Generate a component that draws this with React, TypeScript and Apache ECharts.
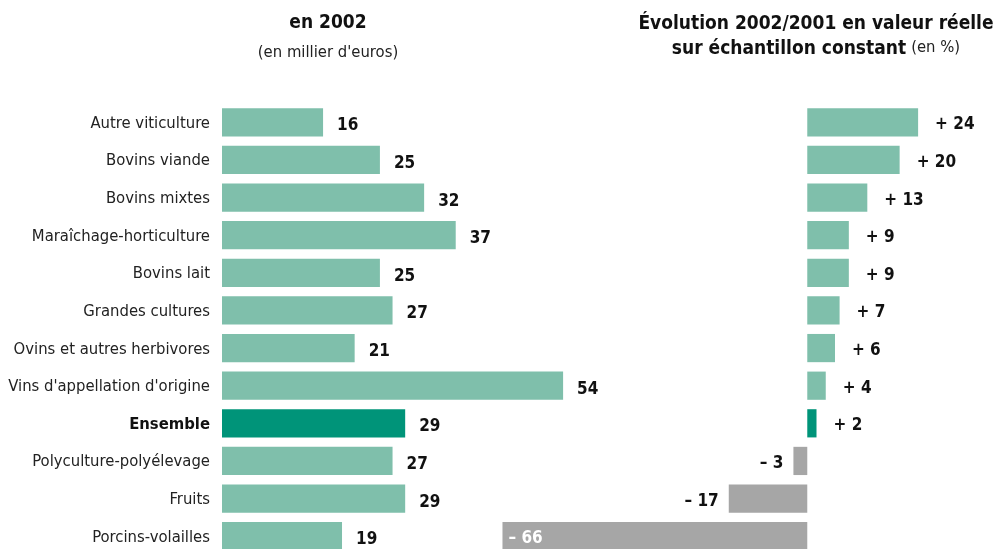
import React, { useEffect, useRef } from "react";
import * as echarts from "echarts";

const categories = [
  "Autre viticulture",
  "Bovins viande",
  "Bovins mixtes",
  "Maraîchage-horticulture",
  "Bovins lait",
  "Grandes cultures",
  "Ovins et autres herbivores",
  "Vins d'appellation d'origine",
  "Ensemble",
  "Polyculture-polyélevage",
  "Fruits",
  "Porcins-volailles",
];
const values2002 = [16, 25, 32, 37, 25, 27, 21, 54, 29, 27, 29, 19];
const evolution = [24, 20, 13, 9, 9, 7, 6, 4, 2, -3, -17, -66];

const FONT = "'DejaVu Sans Condensed', 'Liberation Sans Narrow', Arial, sans-serif";
const LIGHT = "#7fbfab";
const DARK = "#009479";
const GREY = "#a6a6a6";

export default function App() {
  const ref = useRef<HTMLDivElement>(null);
  useEffect(() => {
    document.body.style.margin = "0";
    const chart = echarts.init(ref.current!, undefined, { renderer: "svg" });
    const fmtEvo = (v: number) => (v >= 0 ? "+ " + v : "– " + Math.abs(v));
    const leftData = values2002.map((v, i) => ({
      value: v,
      itemStyle: { color: categories[i] === "Ensemble" ? DARK : LIGHT },
    }));
    const rightData = evolution.map((v, i) => {
      const isEns = categories[i] === "Ensemble";
      const color = v < 0 ? GREY : isEns ? DARK : LIGHT;
      let label: any;
      if (v >= 0) {
        label = { position: "right", distance: 17 };
      } else if (v > -40) {
        label = { position: "left", distance: 10 };
      } else {
        label = { position: "insideLeft", distance: 6, color: "#fff" };
      }
      return { value: v, itemStyle: { color }, label };
    });
    const gridTop = 103.5;
    const gridHeight = 451.5;
    chart.setOption({
      animation: false,
      title: [
        {
          text: "en 2002",
          left: 323,
          textAlign: "center",
          top: 6,
          textStyle: { fontFamily: FONT, fontSize: 19, fontWeight: "bold", color: "#111" },
        },
        {
          text: "(en millier d'euros)",
          left: 323,
          textAlign: "center",
          top: 38,
          textStyle: { fontFamily: FONT, fontSize: 16.5, fontWeight: "normal", color: "#222" },
        },
        {
          text: "{b|Évolution 2002/2001 en valeur réelle}\n{b|sur échantillon constant} {n|(en %)}",
          left: 811,
          textAlign: "center",
          top: 4,
          textStyle: {
            fontFamily: FONT,
            fontWeight: "normal",
            align: "center",
            rich: {
              b: { fontFamily: FONT, fontSize: 19, fontWeight: "bold", color: "#111", lineHeight: 25, align: "center" },
              n: { fontFamily: FONT, fontSize: 16.5, fontWeight: "normal", color: "#222", lineHeight: 25, align: "center" },
            },
          },
        },
      ],
      grid: [
        { left: 222, width: 379, top: gridTop, height: gridHeight },
        { left: 484, width: 508, top: gridTop, height: gridHeight },
      ],
      xAxis: [
        { gridIndex: 0, type: "value", min: 0, max: 60, show: false },
        { gridIndex: 1, type: "value", min: -70, max: 40, show: false },
      ],
      yAxis: [
        {
          gridIndex: 0,
          type: "category",
          data: categories,
          inverse: true,
          axisLine: { show: false },
          axisTick: { show: false },
          splitLine: { show: false },
          axisLabel: {
            margin: 12,
            fontFamily: FONT,
            fontSize: 16.5,
            color: "#222",
            formatter: (v: string) => (v === "Ensemble" ? "{b|" + v + "}" : v),
            rich: {
              b: { fontFamily: FONT, fontSize: 16.5, fontWeight: "bold", color: "#111" },
            },
          },
        },
        {
          gridIndex: 1,
          type: "category",
          data: categories,
          inverse: true,
          show: false,
        },
      ],
      series: [
        {
          type: "bar",
          xAxisIndex: 0,
          yAxisIndex: 0,
          data: leftData,
          barCategoryGap: "25%",
          label: {
            show: true,
            position: "right",
            distance: 14,
            offset: [0, 2],
            fontFamily: FONT,
            fontSize: 17,
            fontWeight: "bold",
            color: "#111",
          },
        },
        {
          type: "bar",
          xAxisIndex: 1,
          yAxisIndex: 1,
          data: rightData,
          barCategoryGap: "25%",
          label: {
            show: true,
            offset: [0, 1],
            fontFamily: FONT,
            fontSize: 17,
            fontWeight: "bold",
            color: "#111",
            formatter: (p: any) => fmtEvo(p.value),
          },
        },
      ],
    });
    return () => chart.dispose();
  }, []);
  return <div ref={ref} style={{ position: "fixed", left: 0, top: 0, width: 997, height: 560 }} />;
}
